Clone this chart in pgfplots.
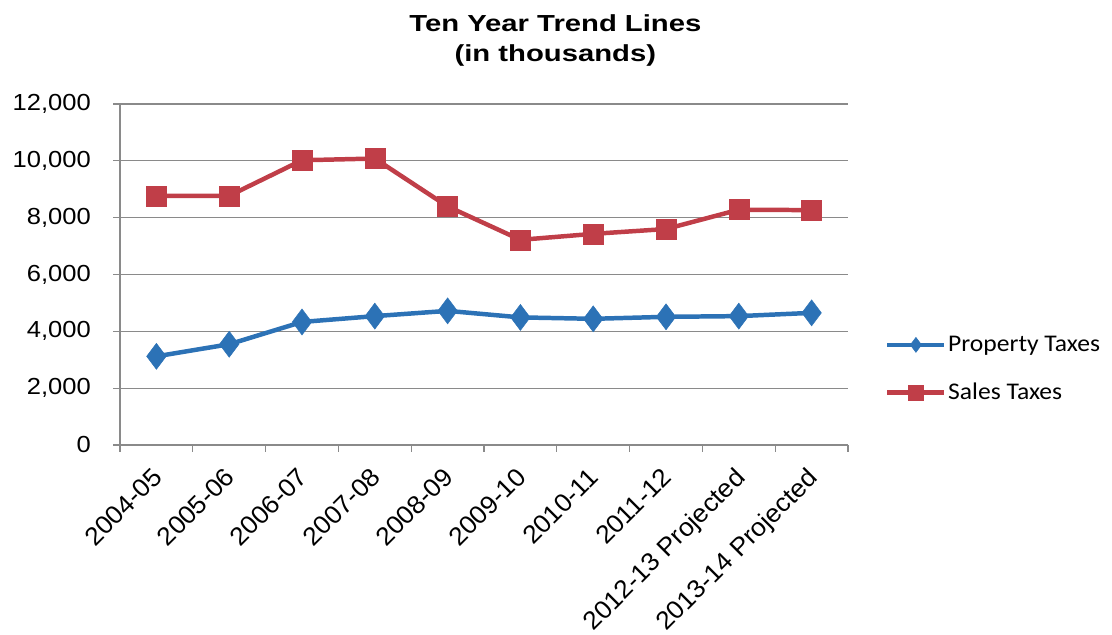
\documentclass[border=0pt]{standalone}
\usepackage{fontspec}
\setmainfont{Liberation Sans}
\newfontfamily\titlefont{Liberation Sans}[FakeStretch=1.26]
\newfontfamily\yfont{Liberation Sans}[FakeStretch=1.1]
\newfontfamily\xfont{Liberation Sans}[FakeStretch=1.04]
\newfontfamily\legfont{Carlito}[FakeStretch=1.07]
\usepackage{pgfplots}
\pgfplotsset{compat=1.18}
\definecolor{propblue}{RGB}{44,114,182}
\definecolor{salesred}{RGB}{192,62,72}
\definecolor{gridgray}{RGB}{138,138,138}
\begin{document}
\begin{tikzpicture}[x=1bp,y=1bp]
\path[use as bounding box] (0,0) rectangle (1112,635);
\begin{axis}[
  at={(120bp,190bp)}, anchor=south west,
  scale only axis, width=728bp, height=341bp,
  xmin=-0.5, xmax=9.5, ymin=0, ymax=12000,
  axis x line*=bottom, axis y line*=left,
  axis line style={gridgray, line width=1.2pt, -},
  xtick={0,...,9},
  xticklabels={2004-05,2005-06,2006-07,2007-08,2008-09,2009-10,2010-11,2011-12,2012-13 Projected,2013-14 Projected},
  x tick label style={rotate=45, anchor=north east, inner sep=0pt, font=\xfont\fontsize{25.5}{28}\selectfont, xshift=-13.7bp, yshift=-6.1bp},
  major x tick style={draw=none},
  minor xtick={-0.5,0.5,...,9.5},
  minor x tick style={gridgray, line width=1.2pt},
  ytick={0,2000,...,12000},
  scaled y ticks=false,
  yticklabel style={font=\yfont\fontsize{23.3}{26}\selectfont, inner sep=0pt, xshift=-22bp},
  /pgf/number format/assume math mode=true,
  /pgf/number format/.cd, fixed, 1000 sep={,}, /pgfplots/.cd,
  ymajorgrids, grid style={gridgray, line width=1.2pt},
  major y tick style={gridgray, line width=1.2pt},
  tick align=outside, major tick length=7bp, minor tick length=7bp,
  clip=false,
  title={\bfseries Ten Year Trend Lines\\\bfseries (in thousands)},
  title style={at={(0.598,1)}, anchor=south, inner sep=0pt, yshift=31bp, align=center, font=\titlefont\fontsize{23.3}{31}\selectfont},
  legend style={at={(1.0508,0.223)}, anchor=west, draw=none, fill=none, font=\legfont\fontsize{24}{28}\selectfont, row sep=27bp, inner sep=0pt, nodes={inner sep=1.5bp}},
  legend cell align=left,
  legend image code/.code={
    \draw[#1, mark=none] (0bp,0bp) -- (57bp,0bp);
    \draw[#1, only marks, mark size=7.5bp] plot coordinates {(28.5bp,0bp)};
  },
]
\addplot[propblue, line width=4.5pt, mark=diamond*, mark size=13bp, mark options={line width=0.5pt, fill=propblue}]
  coordinates {(0,3120) (1,3545) (2,4330) (3,4535) (4,4720) (5,4490) (6,4440) (7,4510) (8,4535) (9,4650)};
\addlegendentry{Property Taxes}
\addplot[salesred, line width=4.5pt, mark=square*, mark size=10bp, mark options={line width=0.5pt, fill=salesred}]
  coordinates {(0,8770) (1,8770) (2,10020) (3,10080) (4,8395) (5,7220) (6,7430) (7,7600) (8,8280) (9,8265)};
\addlegendentry{Sales Taxes}
\end{axis}
\end{tikzpicture}
\end{document}
